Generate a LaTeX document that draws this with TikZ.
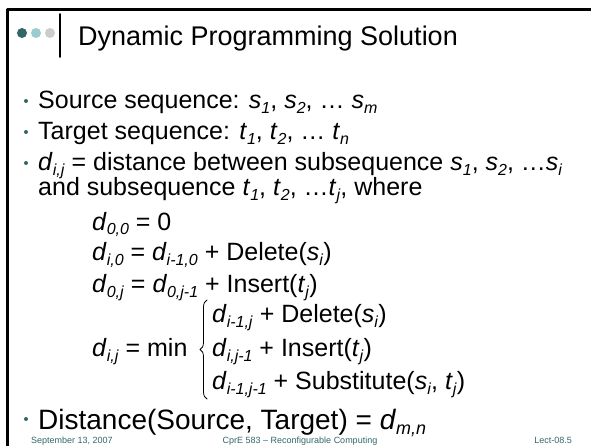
\documentclass[tikz,border=0pt]{standalone}
\usepackage{fontspec}
\setmainfont{Liberation Sans}
\usetikzlibrary{decorations.pathreplacing}
\definecolor{dotdark}{HTML}{336666}
\definecolor{dotmid}{HTML}{99CCCC}
\definecolor{dotlight}{HTML}{CCCCCC}
\definecolor{footcol}{HTML}{336666}
% letter with an italic subscript
\newcommand{\sbx}[2]{\textit{#1}\raisebox{-0.2em}{\fontsize{0.64em}{0.64em}\selectfont\textit{#2}}}
\tikzset{
  body/.style={anchor=base west, inner sep=0pt, font=\fontsize{25}{25}\selectfont},
  foot/.style={inner sep=0pt, text=footcol, font=\fontsize{9}{9}\selectfont}
}
\begin{document}
\begin{tikzpicture}[x=1pt, y=-1pt, line join=round, line cap=round]
	%Page size.
	\useasboundingbox (0,0) rectangle (591,446);
	%Frame.
	\draw[line width=2.2pt] (7.5,447) |- (592,9.5);
	%Title.
	\foreach \c/\x in {dotdark/22,dotmid/36,dotlight/50}{
		\fill[\c] (\x,33) circle (5);
	}
	\draw[line width=1.6pt] (60,14)--(60,57);
	\node[anchor=base west, inner sep=0pt, font=\fontsize{27}{27}\selectfont] (title) at (78,46) {Dynamic Programming Solution};
	%Bullets.
	\foreach \y in {101,132,163,419}{
		\fill[dotdark] (26,\y) circle (2);
	}
	\node[body] (src) at (38,109) {Source sequence: \sbx{s}{1}, \sbx{s}{2}, … \sbx{s}{m}};
	\node[body] (tgt) at (38,140) {Target sequence: \sbx{t}{1}, \sbx{t}{2}, … \sbx{t}{n}};
	\node[body] (dij) at (38,171) {\sbx{d}{i,j} = distance between subsequence \sbx{s}{1}, \sbx{s}{2}, …\sbx{s}{i}};
	\node[body] (sub) at (38,196) {and subsequence \sbx{t}{1}, \sbx{t}{2}, …\sbx{t}{j}, where};
	%Recurrence.
	\node[body] (r0) at (92,230) {\sbx{d}{0,0} = 0};
	\node[body] (r1) at (92,261) {\sbx{d}{i,0} = \sbx{d}{i-1,0} + Delete(\sbx{s}{i})};
	\node[body] (r2) at (92,292) {\sbx{d}{0,j} = \sbx{d}{0,j-1} + Insert(\sbx{t}{j})};
	\node[body] (rmin) at (92,356) {\sbx{d}{i,j} = min};
	\draw[line width=0.8pt, decorate, decoration={brace, amplitude=7pt}] (207,399)--(207,300);
	\node[body] (c1) at (212,322) {\sbx{d}{i-1,j} + Delete(\sbx{s}{i})};
	\node[body] (c2) at (212,356) {\sbx{d}{i,j-1} + Insert(\sbx{t}{j})};
	\node[body] (c3) at (212,389) {\sbx{d}{i-1,j-1} + Substitute(\sbx{s}{i}, \sbx{t}{j})};
	\node[body, font=\fontsize{28}{28}\selectfont] (dist) at (38,429) {Distance(Source, Target) = \sbx{d}{m,n}};
	%Footer.
	\node[foot, anchor=base west] (date) at (31,443) {September 13, 2007};
	\node[foot, anchor=base] (course) at (300,443) {CprE 583 – Reconfigurable Computing};
	\node[foot, anchor=base east] (lect) at (572,443) {Lect-08.5};
\end{tikzpicture}
\end{document}
